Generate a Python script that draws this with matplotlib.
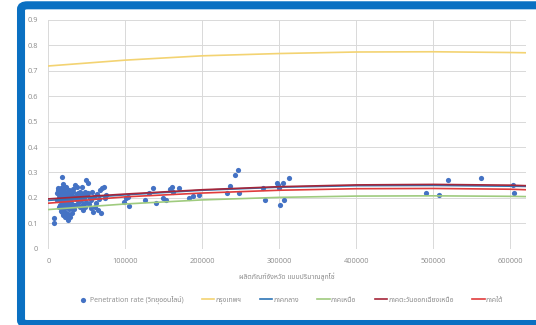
import matplotlib
matplotlib.use("Agg")
import matplotlib.pyplot as plt
from matplotlib.patches import FancyBboxPatch
from matplotlib.ticker import FuncFormatter

plt.rcParams['font.family'] = ['Open Sans', 'Noto Sans Thai', 'Sarabun', 'Niramit', 'DejaVu Sans']

# provincial product (thousand units) vs penetration rate, one dot per province
gpp_k = [7.8, 7.8, 10.9, 13.0, 17.4, 12, 14, 15, 15.5, 16, 16.5, 17, 17.5, 18, 18.5, 19,
         19.5, 20, 20.5, 21, 21.5, 22, 22.5, 23, 23.5, 24, 24.5, 25, 25.5, 26, 26.5, 27,
         27.5, 28.2, 28.5, 29, 29.5, 30, 31, 32, 33, 34, 34.7, 35.5, 36.8, 37, 38, 39,
         40, 41, 42, 43.4, 44, 45.5, 46, 47.7, 47.7, 48.5, 49, 50, 51.1, 52, 53, 54, 55,
         56, 57, 58.4, 59, 60.6, 62, 63, 65, 66, 67, 68, 70.1, 72.7, 73, 75,
         14.5, 16.2, 18.2, 19.2, 20.2, 21.2, 22.2, 23.2, 24.2, 25.2, 26.2, 27.2, 28.2,
         30.5, 31.5, 33.5, 36, 38.5, 41.5, 44.5, 18.8, 21.8, 11.5, 13.5, 16.8, 23.8,
         98.3, 101, 103.1, 104.4, 125.6, 131.2, 136.4, 139.9, 149.4, 152.9, 158, 160.3,
         162, 169.7, 183.1, 188.3, 196,
         231.7, 236, 242.5, 246, 248, 278.8, 281.4, 296.6, 298, 299.6, 301, 304.4, 306.5,
         312.6, 491, 507.4, 519, 561.5, 603, 604.8]
rate = [0.12, 0.10, 0.218, 0.231, 0.281, 0.24, 0.2, 0.19, 0.17, 0.22, 0.15, 0.21, 0.18, 0.2,
        0.235, 0.16, 0.133, 0.19, 0.21, 0.17, 0.225, 0.145, 0.2, 0.185, 0.244, 0.165, 0.215,
        0.195, 0.135, 0.113, 0.205, 0.175, 0.23, 0.126, 0.19, 0.16, 0.21, 0.18, 0.2, 0.225,
        0.17, 0.155, 0.25, 0.195, 0.244, 0.215, 0.18, 0.218, 0.2, 0.165, 0.19, 0.244, 0.21,
        0.152, 0.2, 0.165, 0.224, 0.27, 0.185, 0.21, 0.257, 0.218, 0.175, 0.2, 0.19, 0.16,
        0.225, 0.146, 0.205, 0.165, 0.18, 0.215, 0.152, 0.195, 0.23, 0.14, 0.238, 0.244,
        0.2, 0.21,
        0.21, 0.24, 0.145, 0.225, 0.16, 0.195, 0.24, 0.13, 0.18, 0.22, 0.185, 0.155, 0.2,
        0.14, 0.235, 0.205, 0.17, 0.205, 0.225, 0.175, 0.255, 0.125, 0.19, 0.165, 0.195,
        0.205,
        0.183, 0.198, 0.205, 0.168, 0.19, 0.219, 0.238, 0.18, 0.2, 0.19, 0.234, 0.242,
        0.225, 0.238, 0.2, 0.209, 0.21,
        0.22, 0.248, 0.29, 0.31, 0.22, 0.24, 0.19, 0.26, 0.25, 0.24, 0.17, 0.26, 0.19,
        0.28, 0.22, 0.21, 0.27, 0.28, 0.25, 0.22]

# regional trend curves sampled along the x range
trend_x = [0, 100000, 200000, 300000, 400000, 500000, 600000, 620000]
bangkok = [0.719, 0.742, 0.759, 0.768, 0.774, 0.775, 0.772, 0.771]
central = [0.190, 0.212, 0.230, 0.242, 0.248, 0.249, 0.246, 0.245]
north = [0.154, 0.176, 0.192, 0.202, 0.207, 0.208, 0.206, 0.205]
northeast = [0.196, 0.215, 0.232, 0.244, 0.251, 0.253, 0.250, 0.248]
south = [0.179, 0.204, 0.219, 0.230, 0.236, 0.237, 0.234, 0.232]

fig = plt.figure(figsize=(5.36, 3.25), dpi=100)
fig.patch.set_facecolor('white')

# blue rounded frame, open on the right side
frame = FancyBboxPatch((0.0392, 0.003), 1.0, 0.9807,
                       boxstyle="round,pad=0,rounding_size=0.012",
                       transform=fig.transFigure, facecolor='none',
                       edgecolor='#0A70C2', linewidth=5.8, zorder=-1)
fig.patches.append(frame)

ax = fig.add_axes([0.0901, 0.2348, 0.8907, 0.7037])
ax.set_facecolor('none')

xs = [v * 1000 for v in gpp_k]
ax.scatter(xs, rate, s=14, color='#4472C4', linewidths=0, zorder=3,
           label='Penetration rate (วิทยุออนไลน์)')
ax.plot(trend_x, bangkok, color='#F3D372', lw=1.2, zorder=4, label='กรุงเทพฯ')
ax.plot(trend_x, central, color='#2E75B6', lw=1.2, zorder=4, label='ภาคกลาง')
ax.plot(trend_x, north, color='#9FCB7E', lw=1.2, zorder=4, label='ภาคเหนือ')
ax.plot(trend_x, northeast, color='#A5263A', lw=1.2, zorder=4, label='ภาคตะวันออกเฉียงเหนือ')
ax.plot(trend_x, south, color='#E03C3C', lw=1.2, zorder=4, label='ภาคใต้')

ax.set_xlim(0, 620000)
ax.set_ylim(0, 0.9)
ax.set_xticks(range(0, 600001, 100000))
ax.set_yticks([i / 10 for i in range(10)])
ax.yaxis.set_major_formatter(FuncFormatter(lambda v, p: f"{v:g}"))
ax.grid(True, color='#D9D9D9', lw=0.7, zorder=0)
ax.set_axisbelow(True)
for s in ax.spines.values():
    s.set_visible(False)
ax.tick_params(length=0, labelsize=5.3, labelcolor='#8C8C8C')
ax.tick_params(axis='y', pad=7.5)
ax.tick_params(axis='x', pad=7)

ax.set_xlabel('ผลิตภัณฑ์จังหวัด แบบปริมาณลูกโซ่', fontsize=5, color='#8C8C8C', labelpad=5.5)

fig.legend(loc='center', bbox_to_anchor=(0.541, 0.077), ncol=6, frameon=False,
           fontsize=5, labelcolor='#8C8C8C', handlelength=1.8, handletextpad=0.2,
           columnspacing=2.6, markerscale=1.0, scatterpoints=1)

fig.savefig('out.png', dpi=100, facecolor='white')
